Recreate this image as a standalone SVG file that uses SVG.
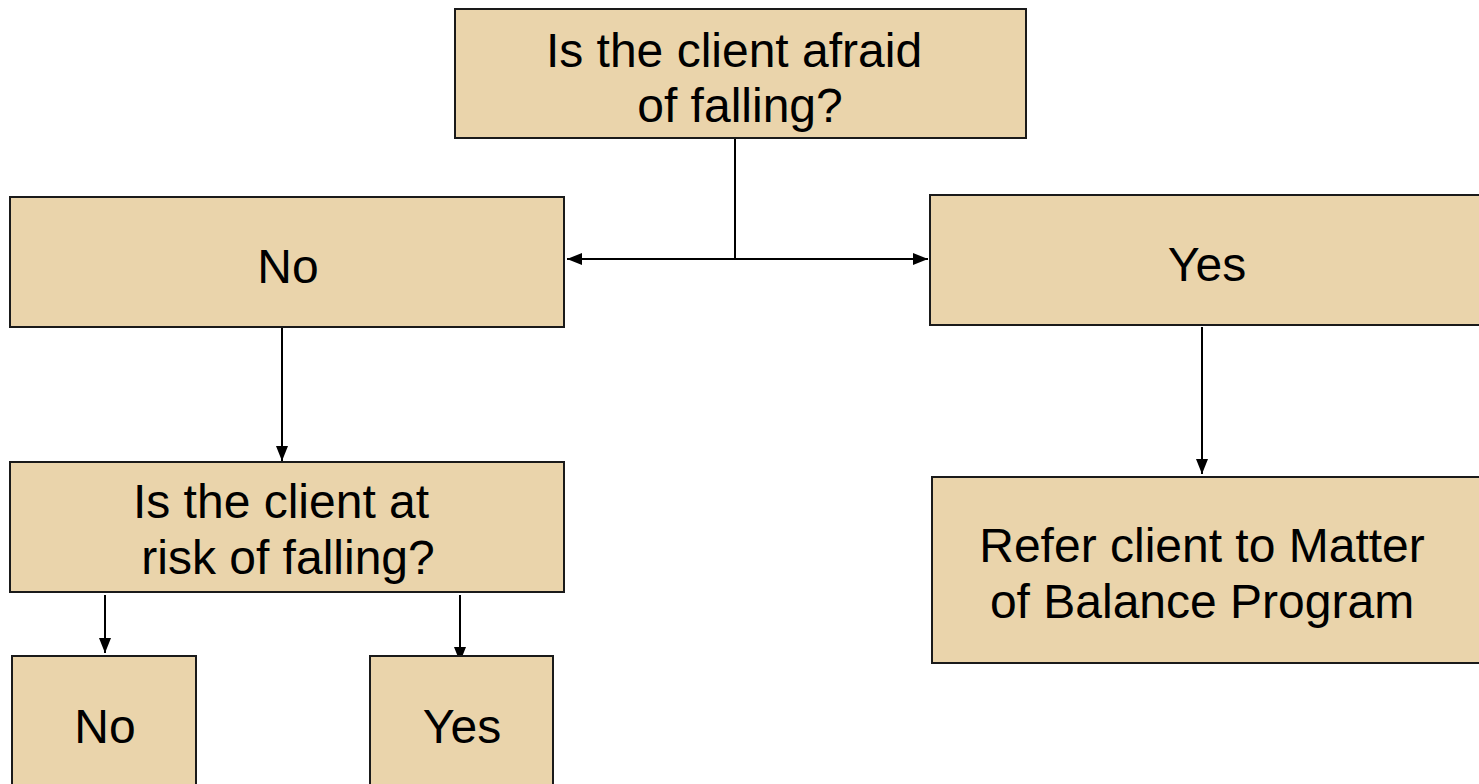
<svg xmlns="http://www.w3.org/2000/svg" width="1479" height="784" viewBox="0 0 1479 784">
<style>
.box{fill:#EAD4AB;stroke:#1a1a1a;stroke-width:2}
.t{font-family:"Liberation Sans",Arial,sans-serif;font-size:48px;fill:#000;text-anchor:middle}
.c{stroke:#000;stroke-width:2;fill:none}
</style>
<defs>
<marker id="ah" viewBox="0 0 15 12" refX="15" refY="6" markerWidth="15" markerHeight="12" markerUnits="userSpaceOnUse" orient="auto-start-reverse">
<path d="M0,0 L15,6 L0,12 Z" fill="#000"/>
</marker>
</defs>
<rect width="1479" height="784" fill="#fff"/>
<g id="connectors">
<line class="c" x1="735" y1="139" x2="735" y2="259"/>
<line class="c" x1="567" y1="259" x2="928" y2="259" marker-start="url(#ah)" marker-end="url(#ah)"/>
<line class="c" x1="282" y1="328" x2="282" y2="461" marker-end="url(#ah)"/>
<line class="c" x1="1202" y1="327" x2="1202" y2="474" marker-end="url(#ah)"/>
<line class="c" x1="105" y1="595" x2="105" y2="653" marker-end="url(#ah)"/>
<line class="c" x1="460" y1="595" x2="460" y2="662" marker-end="url(#ah)"/>
</g>
<g id="afraid">
<rect class="box" x="455" y="9" width="571" height="129"/>
<text class="t" x="734" y="67">Is the client afraid</text>
<text class="t" x="740" y="122">of falling?</text>
</g>
<g id="no1">
<rect class="box" x="10" y="197" width="554" height="130"/>
<text class="t" x="288" y="283">No</text>
</g>
<g id="yes1">
<rect class="box" x="930" y="195" width="560" height="130"/>
<text class="t" x="1207" y="281">Yes</text>
</g>
<g id="risk">
<rect class="box" x="10" y="462" width="554" height="130"/>
<text class="t" x="281" y="518">Is the client at</text>
<text class="t" x="288" y="574">risk of falling?</text>
</g>
<g id="refer">
<rect class="box" x="932" y="477" width="560" height="186"/>
<text class="t" x="1202" y="562">Refer client to Matter</text>
<text class="t" x="1202" y="618">of Balance Program</text>
</g>
<g id="no2">
<rect class="box" x="12" y="656" width="184" height="140"/>
<text class="t" x="105" y="743">No</text>
</g>
<g id="yes2">
<rect class="box" x="370" y="656" width="183" height="140"/>
<text class="t" x="462" y="743">Yes</text>
</g>
</svg>
